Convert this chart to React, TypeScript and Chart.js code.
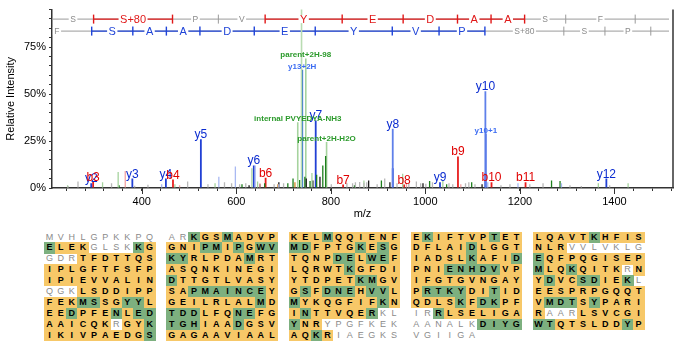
import React, { useEffect, useRef } from 'react';
import { Chart, registerables } from 'chart.js';

Chart.register(...registerables);

const FONT = '"Liberation Sans", Arial, Helvetica, sans-serif';

// ---------- Spectrum data ----------
const bIonNames = ['b3', 'b4', 'b6', 'b7', 'b8', 'b9', 'b10', 'b11'];
const bIonMz = [297, 466, 662, 826, 955, 1069, 1140, 1212];
const bIonIntensity = [3.3, 4.5, 5.5, 1.8, 1.8, 16.8, 3, 3];

const yIonNames = ['y2', 'y3', 'y4', 'y5', 'y6', 'y7', 'y8', 'y9', 'y10', 'y12'];
const yIonMz = [293, 380, 451, 525, 637, 768, 931, 1031, 1127, 1383];
const yIonIntensity = [2.5, 5, 5, 26, 12, 36, 31.6, 3, 51.5, 5];

const yInnerMz = [931, 1127];
const yInnerIntensity = [10.5, 8];

const chargedIonNames = ['y13+2H', 'y10+1'];
const chargedIonMz = [739.5, 1128];
const chargedIonIntensity = [63, 29];

const otherIonNames = ['parent+2H-98', 'internal PVYEDYA-NH3', 'parent+2H-H2O'];
const otherIonMz = [747, 730, 791];
const otherIonIntensity = [69, 35, 24.5];

const precursorMz = [738];
const precursorIntensity = [100];

const grayMz = [244, 265, 336, 385, 413, 497, 540, 575, 590, 607, 620, 680, 700, 801, 834, 846, 852, 861, 870, 876, 898, 914, 940, 965, 981, 990, 1001, 1015, 1050, 1058, 1085, 1092, 1105, 1160, 1179, 1221, 1249, 1306, 1330, 1390];
const grayIntensity = [1, 3.5, 2.5, 1.2, 1.7, 3.4, 2, 3, 2.5, 2, 2.5, 2, 2.5, 2, 2.5, 2.5, 3, 3.2, 2.8, 3, 2, 5, 2.5, 2.8, 3.4, 2.5, 2.2, 3, 2.5, 2, 2.5, 3, 2, 1.5, 2, 2, 2.5, 1.5, 1, 1.5];

const lightGreenMz = [243, 317, 350, 470, 555, 633, 645, 760, 870, 952, 1037, 1366, 1429];
const lightGreenIntensity = [1.5, 3, 8.5, 2, 2.5, 10.5, 3.5, 8, 4, 7.6, 4, 2.5, 2.5];

const darkGreenMz = [352, 612, 660, 709, 720, 734, 745, 756, 770, 783, 789, 850, 907, 1009, 1045, 1098, 1267, 1285];
const darkGreenIntensity = [1.5, 2, 2.5, 2.5, 5, 4.3, 6, 3.7, 7, 12, 17, 1.5, 4, 3.7, 2, 3, 4, 3.7];

const blackMz = [627, 650, 690, 748, 762, 777, 880, 925, 995, 1120];
const blackIntensity = [1.5, 2, 3, 5, 4, 6, 4, 3, 2.5, 2];

const lightBlueMz = [442, 563, 598, 640, 690, 1132, 1196, 1288];
const lightBlueIntensity = [2, 6, 11.5, 12, 2, 3, 2.5, 2.5];

const lightRedMz = [365, 480, 650, 960, 1075];
const lightRedIntensity = [9, 1.5, 2.5, 2.5, 2];

const orangeMz = [688, 724];
const orangeIntensity = [2, 3];

// ---------- Fragment ladders ----------
const bLadderResidues = ['S', 'S+80', 'P', 'V', 'Y', 'E', 'D', 'A', 'A', 'S', 'F'];
const bLadderBounds = [211, 298, 465, 562, 661, 824, 953, 1068, 1139, 1210, 1297, 1444];
const bLadderCovered = [false, true, false, false, true, true, true, true, true, false, false];

const yLadderResidues = ['F', 'S', 'A', 'A', 'D', 'E', 'Y', 'V', 'P', 'S+80', 'S', 'P'];
const yLadderBounds = [147, 294, 381, 452, 523, 638, 767, 930, 1029, 1126, 1293, 1380, 1477];
const yLadderCovered = [false, true, true, true, true, true, true, true, true, false, false, false];

// ---------- Sequence coverage ----------
const seqRows = [
  'MVHLGPKKPQARKGSMADVPKELMQQIENFEKIFTVPTETLQAVTKHFIS',
  'ELEKGLSKKGGNIPMIPGWVMDFPTGKESGDFLAIDLGGTNLRVVLVKLG',
  'GDRTFDTTQSKYRLPDAMRTTQNPDELWEFIADSLKAFIDEQFPQGISEP',
  'IPLGFTFSFPASQNKINEGILQRWTKGFDIPNIENHDVVPMLQKQITKRN',
  'IPIEVVALINDTTGTLVASYYTDPETKMGVIFGTGVNGAYYDVCSDIEKL',
  'QGKLSDDIPPSAPMAINCEYGSFDNEHVVLPRTKYDITIDEESPRPGQQT',
  'FEKMSSGYYLGEILRLALMDMYKQGFIFKNQDLSKFDKPFVMDTSYPARI',
  'EEDPFENLEDTDDLFQNEFGINTTVQERKLIRRLSELIGARAARLSVCGI',
  'AAICQKRGYKTGHIAADGSVYNRYPGFKEKAANALKDIYGWTQTSLDDYP',
  'IKIVPAEDGSGAGAAVIAALAQKRIAEGKSVGIIGA',
];
const covRows = [
  'wwwwwwwwwwwwgyygyyyyyyygyyyyyyygyyyyygyyyyyyygyyyy',
  'gyyywwwwgyyyyggygygg' + 'ggyyyygygyyyyyygyyyyyyywwwwwww',
  'wwwyyyyyyyggyyyyygyyyyyyggyggyyyyyygyyygGyyyyyyyyy',
  'yyyyyyyyyyyyyyyyyyyyyyyyygyyyyyyygggggyygyygyyyywy',
  'yyyyyyyyyygyyyyyyyyyyyyyyyggyyyyyyyyyyyyygyyggyygw',
  'wwwyyyyyyyyygggggggyygygggyggyyggggyygyyyyyyyyyyyy',
  'yyyggyyggyyyyyyyyygygyyyyyyygyyyyygyggyyygggygyyyy',
  'yygyyygygggggyyyggyyygyyyyygwwwwgyyyyyyyywwwyyyyyy',
  'yyyyyywyyggggyyygyyygyywwwwwwwwwwwwwggggggyyyyyygy',
  'yyyyyyyyygyyyyyyyyyyyygywwwwwwwwwwww',
];

const YELLOW = '#F7C868';
const GREEN = '#7DB07F';

function ladderLines(
  ctx: CanvasRenderingContext2D,
  xs: any,
  area: any,
  y: number,
  bounds: number[],
  covered: boolean[],
  color: string
) {
  const left = area.left;
  const right = area.right - 4;
  const gray = '#9a9a9a';
  ctx.save();
  ctx.lineWidth = 1;
  ctx.strokeStyle = gray;
  ctx.beginPath();
  ctx.moveTo(left, y);
  ctx.lineTo(right, y);
  ctx.stroke();
  ctx.strokeStyle = color;
  ctx.lineWidth = 1.4;
  for (let i = 0; i < covered.length; i++) {
    if (!covered[i]) continue;
    const x1 = Math.max(left, xs.getPixelForValue(bounds[i]));
    const x2 = Math.min(right, xs.getPixelForValue(bounds[i + 1]));
    ctx.beginPath();
    ctx.moveTo(x1, y);
    ctx.lineTo(x2, y);
    ctx.stroke();
  }
  for (let i = 0; i < bounds.length; i++) {
    const x = xs.getPixelForValue(bounds[i]);
    if (x < left + 3 || x > right) continue;
    const col = covered[i - 1] || covered[i];
    ctx.strokeStyle = col ? color : gray;
    ctx.lineWidth = col ? 1.4 : 1;
    ctx.beginPath();
    ctx.moveTo(x, y - 4.5);
    ctx.lineTo(x, y + 4.5);
    ctx.stroke();
  }
  ctx.restore();
}

function ladderText(
  ctx: CanvasRenderingContext2D,
  xs: any,
  area: any,
  y: number,
  residues: string[],
  bounds: number[],
  covered: boolean[],
  color: string
) {
  const left = area.left;
  const right = area.right - 4;
  ctx.save();
  ctx.textAlign = 'center';
  ctx.textBaseline = 'middle';
  for (let i = 0; i < residues.length; i++) {
    const x = (xs.getPixelForValue(bounds[i]) + xs.getPixelForValue(bounds[i + 1])) / 2;
    if (x < left || x > right) continue;
    const col = covered[i];
    ctx.font = col ? `11px ${FONT}` : `8.5px ${FONT}`;
    const w = ctx.measureText(residues[i]).width + 3;
    ctx.fillStyle = '#ffffff';
    ctx.fillRect(x - w / 2, y - 4, w, 8);
    ctx.fillStyle = col ? color : '#8a8a8a';
    ctx.fillText(residues[i], x, y + 0.5);
  }
  ctx.restore();
}

const B_COLOR = '#e01818';
const Y_COLOR = '#1f44d8';

const ladderPlugin = {
  id: 'ladder',
  beforeDatasetsDraw(chart: any) {
    const { ctx, chartArea, scales } = chart;
    ladderLines(ctx, scales.x, chartArea, chartArea.top + 9.5, bLadderBounds, bLadderCovered, B_COLOR);
    ladderLines(ctx, scales.x, chartArea, chartArea.top + 21.5, yLadderBounds, yLadderCovered, Y_COLOR);
  },
  afterDatasetsDraw(chart: any) {
    const { ctx, chartArea, scales } = chart;
    ladderText(ctx, scales.x, chartArea, chartArea.top + 9.5, bLadderResidues, bLadderBounds, bLadderCovered, B_COLOR);
    ladderText(ctx, scales.x, chartArea, chartArea.top + 21.5, yLadderResidues, yLadderBounds, yLadderCovered, Y_COLOR);
  },
};

const labelPlugin = {
  id: 'peakLabels',
  afterDatasetsDraw(chart: any) {
    const { ctx, scales } = chart;
    const xs = scales.x;
    const ys = scales.y;
    ctx.save();
    ctx.textAlign = 'center';
    ctx.textBaseline = 'alphabetic';
    const put = (names: string[], mz: number[], inten: number[], font: string, color: string) => {
      ctx.font = font;
      ctx.fillStyle = color;
      names.forEach((n, i) => {
        ctx.fillText(n, xs.getPixelForValue(mz[i]), ys.getPixelForValue(inten[i]) - 1);
      });
    };
    put(yIonNames, yIonMz, yIonIntensity, `12px ${FONT}`, '#0a2bd0');
    put(bIonNames, bIonMz, bIonIntensity, `12px ${FONT}`, '#e00000');
    put(otherIonNames, otherIonMz, otherIonIntensity, `bold 8px ${FONT}`, '#2b9a2b');
    put(chargedIonNames, chargedIonMz, chargedIonIntensity, `bold 8px ${FONT}`, '#3c6cf2');
    ctx.restore();
  },
};

const framePlugin = {
  id: 'frame',
  afterDraw(chart: any) {
    const { ctx, chartArea, scales } = chart;
    ctx.save();
    ctx.strokeStyle = '#333';
    ctx.lineWidth = 1.5;
    ctx.beginPath();
    ctx.moveTo(chartArea.right, chartArea.top);
    ctx.lineTo(chartArea.right, chartArea.bottom);
    ctx.stroke();
    ctx.lineWidth = 1;
    for (let v = 400; v <= 1400; v += 200) {
      const x = Math.round(scales.x.getPixelForValue(v)) + 0.5;
      ctx.beginPath();
      ctx.moveTo(x, chartArea.bottom);
      ctx.lineTo(x, chartArea.bottom + 6);
      ctx.stroke();
    }
    ctx.restore();
  },
};

function pts(mz: number[], inten: number[]) {
  return mz.map((m, i) => ({ x: m, y: inten[i] }));
}

function ds(mz: number[], inten: number[], color: any, thick: number) {
  return {
    data: pts(mz, inten),
    backgroundColor: color,
    borderWidth: 0,
    barThickness: thick,
    inflateAmount: 0,
    grouped: false,
  };
}

export default function App() {
  const ref = useRef<HTMLCanvasElement>(null);

  useEffect(() => {
    const canvas = ref.current;
    if (!canvas) return;
    const chart = new Chart(canvas, {
      type: 'bar',
      data: {
        datasets: [
          ds(precursorMz, precursorIntensity, '#b9dcb2', 1.6),
          ds(grayMz, grayIntensity, '#b8b8b8', 1.3),
          ds(lightGreenMz, lightGreenIntensity, '#a6d39e', 1.3),
          ds(lightBlueMz, lightBlueIntensity, '#a9b9f2', 1.3),
          ds(lightRedMz, lightRedIntensity, '#f3a3a3', 1.3),
          ds(orangeMz, orangeIntensity, '#d4892a', 1.3),
          ds(blackMz, blackIntensity, '#1a1a1a', 1.3),
          ds(darkGreenMz, darkGreenIntensity, '#1d7f1d', 1.3),
          ds(otherIonMz, otherIonIntensity, '#a6d39e', 1.6),
          ds(chargedIonMz.slice(0, 1), chargedIonIntensity.slice(0, 1), '#1f63d2', 1.8),
          ds(chargedIonMz.slice(1), chargedIonIntensity.slice(1), '#5a7be8', 1.8),
          ds(yIonMz, yIonIntensity, yIonNames.map((n) => (n === 'y8' || n === 'y10' ? '#5f80ea' : '#2140d4')), 1.8),
          ds(yInnerMz, yInnerIntensity, '#1a33c0', 1.8),
          ds(bIonMz, bIonIntensity, '#e81e1e', 1.8),
        ] as any,
      },
      options: {
        animation: false,
        responsive: false,
        devicePixelRatio: 1,
        layout: { padding: { left: 0, right: 7, top: 0, bottom: 0 } },
        plugins: { legend: { display: false }, tooltip: { enabled: false } },
        scales: {
          x: {
            type: 'linear',
            min: 210,
            max: 1524,
            offset: false,
            grid: { display: true, drawOnChartArea: false, tickLength: 3, color: '#333', offset: false },
            border: { display: true, color: '#333', width: 1.5 },
            ticks: {
              stepSize: 40,
              autoSkip: false,
              maxRotation: 0,
              includeBounds: false,
              padding: 4,
              color: '#000',
              font: { family: FONT, size: 11 },
              callback: (v: any) => (Number(v) % 200 === 0 ? String(v) : ''),
            },
            title: { display: true, text: 'm/z', color: '#000', font: { family: FONT, size: 11 }, padding: { top: 0, bottom: 5 } },
            afterFit: (s: any) => {
              s.height = 38;
            },
          },
          y: {
            type: 'linear',
            min: 0,
            max: 95,
            grid: { display: true, drawOnChartArea: false, tickLength: 3, color: '#333' },
            border: { display: true, color: '#333', width: 1.5 },
            ticks: {
              stepSize: 5,
              autoSkip: false,
              includeBounds: false,
              padding: 3,
              color: '#000',
              font: { family: FONT, size: 11 },
              callback: (v: any) => (Number(v) % 25 === 0 ? `${v}%` : ''),
            },
            title: { display: true, text: 'Relative Intensity', color: '#000', font: { family: FONT, size: 11 }, padding: { top: 4, bottom: 0 } },
            afterFit: (s: any) => {
              s.width = 52;
            },
          },
        },
      } as any,
      plugins: [ladderPlugin, labelPlugin, framePlugin],
    });
    return () => chart.destroy();
  }, []);

  const cells: React.ReactNode[] = [];
  seqRows.forEach((row, r) => {
    for (let i = 0; i < row.length; i++) {
      const block = Math.floor(i / 10);
      const col = i % 10;
      const c = (covRows[r][i] || 'w').toLowerCase();
      const left = 44 + block * 122.25 + col * 11.12;
      const top = 231.5 + r * 10.9;
      const bg = c === 'g' ? GREEN : c === 'y' ? YELLOW : 'transparent';
      cells.push(
        <div
          key={`${r}-${i}`}
          style={{
            position: 'absolute',
            left,
            top,
            width: 11.6,
            height: 11.4,
            background: bg,
            color: c === 'w' ? '#8a8a8a' : '#000',
            fontWeight: c === 'w' ? 'normal' : 'bold',
            fontSize: 9,
            lineHeight: '11px',
            textAlign: 'center',
            fontFamily: FONT,
          }}
        >
          <span style={{ position: 'relative', left: -0.25 }}>{row[i]}</span>
        </div>
      );
    }
  });

  return (
    <div style={{ position: 'fixed', left: 0, top: 0, width: 680, height: 350, background: '#fff', overflow: 'hidden' }}>
      <canvas ref={ref} width={680} height={226} style={{ position: 'absolute', left: 0, top: 0, width: 680, height: 226 }} />
      {cells}
    </div>
  );
}
